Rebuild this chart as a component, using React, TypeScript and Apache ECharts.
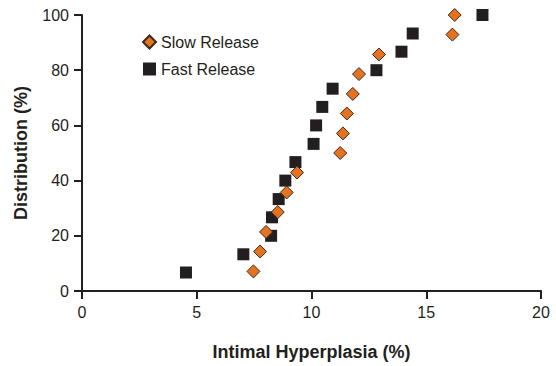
import React, { useEffect, useRef } from "react";
import * as echarts from "echarts";

const slowX = [7.47, 7.76, 8.02, 8.53, 8.92, 9.37, 11.25, 11.37, 11.54, 11.8, 12.07, 12.94, 16.14, 16.24];
const slowY = [7.1, 14.3, 21.4, 28.6, 35.7, 42.9, 50, 57.1, 64.3, 71.4, 78.6, 85.7, 92.9, 100];
const fastX = [4.53, 7.03, 8.24, 8.28, 8.57, 8.86, 9.3, 10.09, 10.2, 10.47, 10.92, 12.83, 13.92, 14.41, 17.45];
const fastY = [6.7, 13.3, 20, 26.7, 33.3, 40, 46.7, 53.3, 60, 66.7, 73.3, 80, 86.7, 93.3, 100];

const FONT = "'Liberation Sans Narrow', 'Liberation Sans', Arial, sans-serif";

export default function App() {
  const ref = useRef<HTMLDivElement>(null);
  useEffect(() => {
    if (!ref.current) return;
    const chart = echarts.init(ref.current, null, { renderer: "svg" });
    const axisCommon = {
      axisLine: { show: true, onZero: false, lineStyle: { color: "#231f20", width: 2 } },
      axisTick: { show: true, length: 8, lineStyle: { color: "#231f20", width: 2 } },
      splitLine: { show: false },
      axisLabel: { color: "#231f20", fontSize: 16, fontFamily: FONT, margin: 13 },
      nameTextStyle: { color: "#231f20", fontSize: 18, fontWeight: "bold", fontFamily: FONT },
    };
    chart.setOption({
      animation: false,
      backgroundColor: "#ffffff",
      grid: { left: 82, right: 15, top: 15, bottom: 72 },
      legend: {
        orient: "vertical",
        left: 137,
        top: 29,
        itemWidth: 13,
        itemHeight: 13,
        itemGap: 11,
        textStyle: { color: "#231f20", fontSize: 16, fontFamily: FONT },
        data: ["Slow Release", "Fast Release"],
      },
      xAxis: {
        type: "value",
        min: 0,
        max: 20,
        interval: 5,
        name: "Intimal Hyperplasia (%)",
        nameLocation: "middle",
        nameGap: 52,
        ...axisCommon,
      },
      yAxis: {
        type: "value",
        min: 0,
        max: 100,
        interval: 20,
        name: "Distribution (%)",
        nameLocation: "middle",
        nameGap: 52,
        ...axisCommon,
      },
      series: [
        {
          name: "Fast Release",
          type: "scatter",
          symbol: "rect",
          symbolSize: 12,
          itemStyle: { color: "#231f20", opacity: 1 },
          data: fastX.map((x, i) => [x, fastY[i]]),
          z: 2,
        },
        {
          name: "Slow Release",
          type: "scatter",
          symbol: "diamond",
          symbolSize: 13,
          itemStyle: { color: "#e5721f", borderColor: "#3b2a1e", borderWidth: 1, opacity: 1 },
          data: slowX.map((x, i) => [x, slowY[i]]),
          z: 3,
        },
      ],
    });
    return () => chart.dispose();
  }, []);
  return <div ref={ref} style={{ width: 556, height: 366, position: "absolute", left: 0, top: 0 }} />;
}
